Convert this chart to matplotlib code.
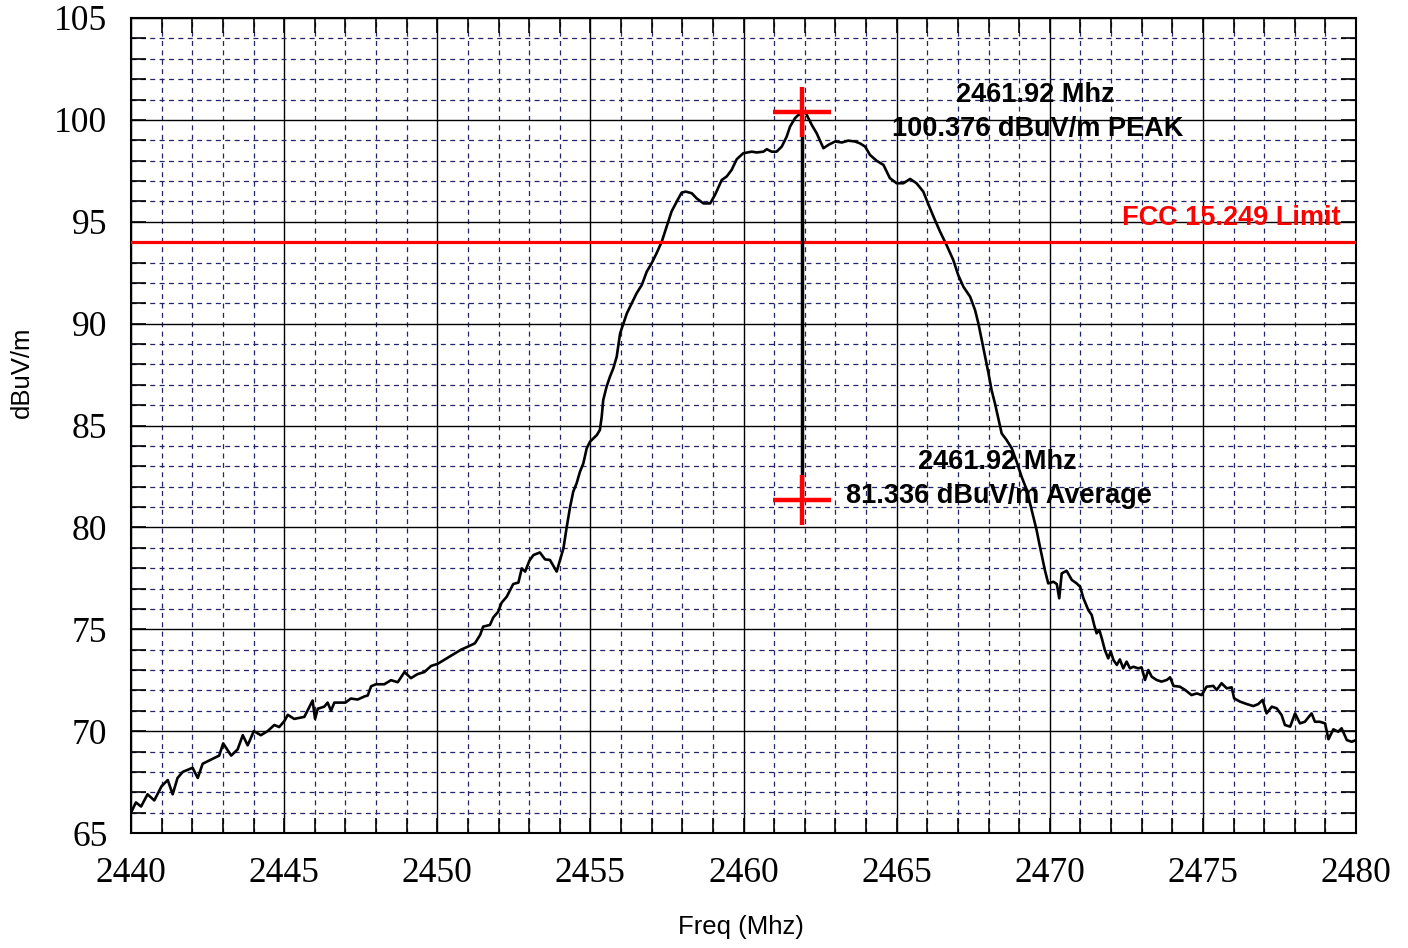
import numpy as np
import matplotlib
matplotlib.use('Agg')
import matplotlib.pyplot as plt
from matplotlib.ticker import MultipleLocator

# trace (MHz, dBuV/m)
freq = [2440.00, 2440.16, 2440.33, 2440.54, 2440.76, 2441.00, 2441.20, 2441.36, 2441.52, 2441.69,
        2442.01, 2442.18, 2442.34, 2442.61, 2442.88, 2443.01, 2443.27, 2443.48, 2443.65, 2443.81,
        2444.01, 2444.24, 2444.46, 2444.68, 2444.84, 2445.01, 2445.12, 2445.33, 2445.66, 2445.93,
        2446.01, 2446.10, 2446.31, 2446.42, 2446.53, 2446.64, 2447.00, 2447.18, 2447.40, 2447.62,
        2447.73, 2447.84, 2448.00, 2448.27, 2448.49, 2448.71, 2448.93, 2449.14, 2449.36, 2449.58,
        2449.80, 2450.01, 2450.23, 2450.45, 2450.78, 2450.99, 2451.23, 2451.40, 2451.50, 2451.72,
        2451.83, 2451.99, 2452.10, 2452.27, 2452.48, 2452.65, 2452.76, 2452.87, 2453.01, 2453.14,
        2453.35, 2453.52, 2453.68, 2453.90, 2454.12, 2454.23, 2454.34, 2454.44, 2454.55, 2454.66,
        2454.77, 2454.88, 2454.99, 2455.21, 2455.31, 2455.37, 2455.42, 2455.53, 2455.64, 2455.75,
        2455.86, 2455.97, 2456.08, 2456.19, 2456.35, 2456.51, 2456.68, 2456.84, 2457.00, 2457.16,
        2457.33, 2457.49, 2457.65, 2457.82, 2457.98, 2458.11, 2458.31, 2458.47, 2458.69, 2458.91,
        2459.07, 2459.29, 2459.45, 2459.61, 2459.78, 2459.99, 2460.27, 2460.43, 2460.65, 2460.76,
        2460.92, 2461.08, 2461.25, 2461.41, 2461.52, 2461.68, 2461.79, 2461.90, 2462.01, 2462.12,
        2462.23, 2462.39, 2462.61, 2462.77, 2462.99, 2463.21, 2463.42, 2463.64, 2463.80, 2463.97,
        2464.13, 2464.35, 2464.57, 2464.78, 2465.00, 2465.22, 2465.44, 2465.65, 2465.87, 2466.09,
        2466.25, 2466.42, 2466.63, 2466.85, 2467.01, 2467.18, 2467.40, 2467.56, 2467.67, 2467.78,
        2467.89, 2468.00, 2468.10, 2468.21, 2468.32, 2468.43, 2468.59, 2468.76, 2468.92, 2469.08,
        2469.25, 2469.41, 2469.57, 2469.68, 2469.84, 2469.95, 2470.12, 2470.23, 2470.31, 2470.39,
        2470.55, 2470.72, 2470.88, 2470.99, 2471.10, 2471.26, 2471.37, 2471.45, 2471.53, 2471.62,
        2471.70, 2471.80, 2471.91, 2471.99, 2472.08, 2472.19, 2472.29, 2472.40, 2472.51, 2472.62,
        2472.73, 2472.89, 2473.00, 2473.11, 2473.22, 2473.33, 2473.49, 2473.65, 2473.82, 2473.93,
        2474.04, 2474.25, 2474.42, 2474.63, 2474.80, 2474.96, 2475.12, 2475.34, 2475.45, 2475.61,
        2475.78, 2475.94, 2476.02, 2476.21, 2476.43, 2476.65, 2476.81, 2476.95, 2477.08, 2477.25,
        2477.41, 2477.57, 2477.68, 2477.85, 2478.01, 2478.17, 2478.33, 2478.55, 2478.66, 2478.82,
        2478.99, 2479.10, 2479.26, 2479.42, 2479.53, 2479.70, 2479.86, 2480.00]
level = [66.0, 66.5, 66.3, 66.9, 66.6, 67.3, 67.6, 66.9, 67.7, 68.0,
         68.2, 67.7, 68.4, 68.6, 68.8, 69.4, 68.8, 69.1, 69.8, 69.3,
         70.0, 69.8, 70.0, 70.3, 70.2, 70.5, 70.8, 70.6, 70.7, 71.5,
         70.6, 71.1, 71.2, 71.4, 71.0, 71.4, 71.4, 71.6, 71.55, 71.7,
         71.75, 72.2, 72.3, 72.3, 72.5, 72.4, 72.9, 72.6, 72.8, 72.9,
         73.2, 73.3, 73.5, 73.7, 74.0, 74.14, 74.31, 74.72, 75.13, 75.21,
         75.58, 75.86, 76.3, 76.6, 77.22, 77.29, 77.99, 77.83, 78.37, 78.64,
         78.77, 78.43, 78.4, 77.83, 78.97, 80.04, 81.02, 81.75, 82.16, 82.73,
         83.14, 83.88, 84.21, 84.53, 84.78, 85.43, 86.25, 86.91, 87.4, 87.81,
         88.38, 89.52, 90.01, 90.5, 90.99, 91.49, 91.9, 92.55, 92.96, 93.45,
         94.02, 94.76, 95.5, 95.99, 96.43, 96.48, 96.4, 96.15, 95.9, 95.9,
         96.32, 97.05, 97.22, 97.54, 98.07, 98.36, 98.44, 98.4, 98.44, 98.56,
         98.44, 98.44, 98.69, 99.18, 99.67, 100.08, 100.24, 100.29, 100.41, 100.08,
         99.75, 99.34, 98.61, 98.77, 98.94, 98.89, 98.98, 98.94, 98.85, 98.69,
         98.28, 97.99, 97.79, 97.14, 96.89, 96.89, 97.1, 96.89, 96.48, 95.66,
         95.09, 94.51, 93.86, 93.12, 92.39, 91.81, 91.32, 90.67, 90.01, 89.2,
         88.38, 87.56, 86.74, 86.09, 85.35, 84.61, 84.29, 83.88, 83.22, 82.49,
         81.83, 80.85, 79.87, 79.05, 77.91, 77.25, 77.33, 77.22, 76.52, 77.74,
         77.87, 77.42, 77.25, 77.09, 76.52, 75.94, 75.7, 75.21, 74.8, 74.96,
         74.55, 73.98, 73.57, 73.9, 73.49, 73.25, 73.52, 73.08, 73.41, 73.08,
         73.16, 73.08, 73.13, 72.51, 73.0, 72.67, 72.51, 72.43, 72.51, 72.64,
         72.22, 72.18, 72.02, 71.77, 71.85, 71.77, 72.18, 72.22, 72.02, 72.35,
         72.1, 72.15, 71.61, 71.45, 71.33, 71.23, 71.33, 71.53, 70.87, 71.2,
         71.12, 70.79, 70.3, 70.22, 70.87, 70.38, 70.46, 70.87, 70.46, 70.46,
         70.38, 69.6, 70.09, 69.97, 70.14, 69.56, 69.48, 69.56]

limit = 94.0
marker_freq = 2461.92
peak_level = 100.376
avg_level = 81.336

serif = ['Liberation Serif', 'DejaVu Serif']
sans = ['Liberation Sans', 'DejaVu Sans']

fig = plt.figure(figsize=(14.08, 9.48), dpi=100)
ax = fig.add_axes([131/1408, 1 - 833/948, 1225/1408, 815/948])

ax.set_xlim(2440, 2480)
ax.set_ylim(65, 105)
ax.xaxis.set_major_locator(MultipleLocator(5))
ax.xaxis.set_minor_locator(MultipleLocator(1))
ax.yaxis.set_major_locator(MultipleLocator(5))
ax.yaxis.set_minor_locator(MultipleLocator(1))

ax.grid(which='minor', color='#24246a', linestyle=(0, (4, 3.5)), linewidth=0.9)
ax.grid(which='major', color='black', linestyle='-', linewidth=1.0)
ax.set_axisbelow(True)

ax.tick_params(which='both', direction='in', top=True, right=True, length=11, width=1.2, color='black')
ax.tick_params(which='major', labelsize=25.5)
ax.tick_params(axis='y', which='major', pad=17)
ax.tick_params(axis='x', which='major', pad=17)
for lab in ax.get_xticklabels() + ax.get_yticklabels():
    lab.set_family(serif)
for sp in ax.spines.values():
    sp.set_linewidth(1.5)

ax.plot(freq, level, color='black', linewidth=1.9, zorder=3)
ax.axhline(limit, color='#ff0000', linewidth=2.3, zorder=4)

# marker crosses: wider than tall
ax.plot([marker_freq, marker_freq], [peak_level, avg_level], color='black', linewidth=2.5, zorder=5)
for lvl in (peak_level, avg_level):
    ax.plot([marker_freq], [lvl], marker='_', markersize=42, markeredgewidth=3.2, color='#ff0000', zorder=6)
    ax.plot([marker_freq], [lvl], marker='|', markersize=36, markeredgewidth=3.2, color='#ff0000', zorder=6)

tkw = dict(fontsize=19.5, fontweight='bold', family=sans, ha='center', va='center', zorder=7)
ax.text(2469.52, 101.22, '2461.92 Mhz', color='black', **tkw)
ax.text(2469.6, 99.55, '100.376 dBuV/m PEAK', color='black', **tkw)
ax.text(2468.28, 83.2, '2461.92 Mhz', color='black', **tkw)
ax.text(2468.33, 81.55, '81.336 dBuV/m Average', color='black', **tkw)
ax.text(2475.92, 95.18, 'FCC 15.249 Limit', color='#ff0000', **tkw)

fig.text(741/1408, 1 - 927/948, 'Freq (Mhz)', fontsize=18.5, family=sans, ha='center', va='center')
fig.text(22/1408, 1 - 372/948, 'dBuV/m', fontsize=18.5, family=sans, rotation=90, ha='center', va='center')

fig.savefig('out.png', dpi=100)
